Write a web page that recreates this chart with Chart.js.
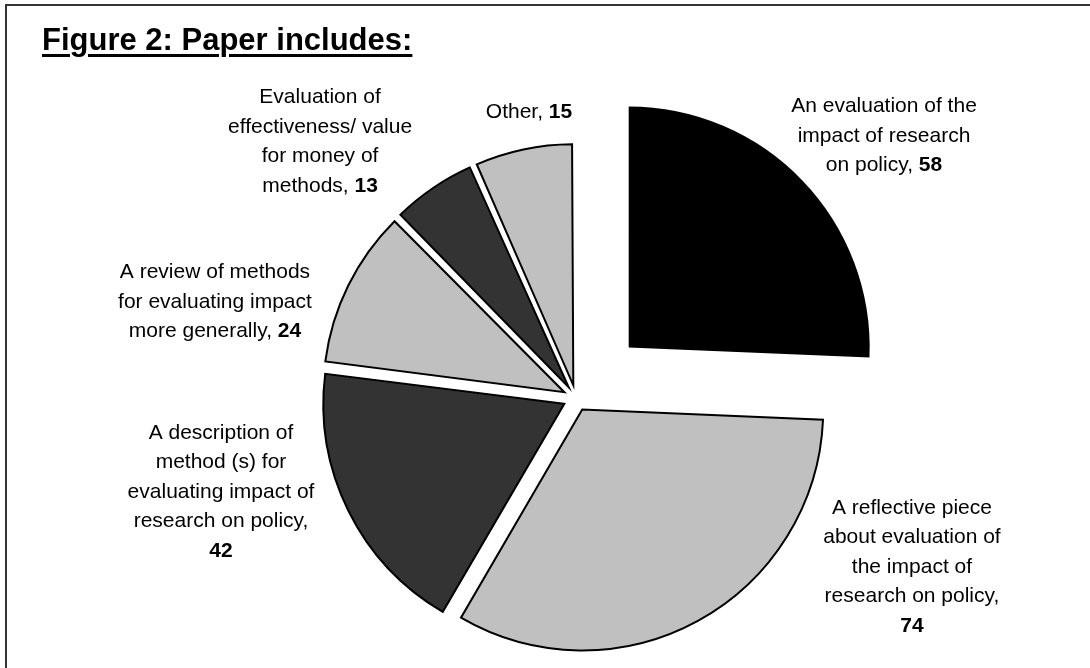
<!DOCTYPE html>
<html>
<head>
<meta charset="utf-8">
<script src="https://cdn.jsdelivr.net/npm/chart.js@4.4.1/dist/chart.umd.min.js"></script>
<style>
  html, body { margin: 0; padding: 0; background: #fff; overflow: hidden; }
  #wrap { position: relative; width: 1090px; height: 668px; }
  #frame { position: absolute; left: 5px; top: 4px; width: 1200px; height: 800px; border: 2px solid #333; }
  #titulo {
    position: absolute; left: 42px; top: 22px; color: #000;
    font: bold 31px "Liberation Sans", Arial, sans-serif; line-height: 36px;
    text-decoration: underline; text-decoration-thickness: 3px; text-underline-offset: 4px;
  }
  canvas { position: absolute; left: 0; top: 0; }
</style>
</head>
<body>
<div id="wrap">
  <div id="frame"></div>
  <canvas id="grafico1" width="1090" height="668"></canvas>
  <div id="titulo">Figure 2: Paper includes:</div>
</div>
<script>
const ctx = document.getElementById('grafico1')

// each category split in lines, the value goes bold after the last line
const categorias = [
    ['An evaluation of the', 'impact of research', 'on policy,'],
    ['A reflective piece', 'about evaluation of', 'the impact of', 'research on policy,', ''],
    ['A description of', 'method (s) for', 'evaluating impact of', 'research on policy,', ''],
    ['A review of methods', 'for evaluating impact', 'more generally,'],
    ['Evaluation of', 'effectiveness/ value', 'for money of', 'methods,'],
    ['Other,']
]
const valores = [58, 74, 42, 24, 13, 15]

const cores = ['#000000', '#c0c0c0', '#333333', '#c0c0c0', '#333333', '#c0c0c0']
const bordas = [0, 2, 2, 2, 2, 2]
const afastamento = [292, 52, 52, 52, 52, 52]
const raio = 241

// label centres relative to the pie centre, in radius units
const posRotulos = [[1.278, -1.087], [1.394, 0.701], [-1.473, 0.390], [-1.498, -0.398], [-1.062, -1.064], [-0.195, -1.187]]

const fonteNormal = '21px "Liberation Sans", Arial, sans-serif'
const fonteNegrito = 'bold 21px "Liberation Sans", Arial, sans-serif'
const alturaLinha = 29.5

// chart.js grows the radius of offset slices a bit, undo it
const ajusteRaio = {
    id: 'ajusteRaio',
    beforeDatasetsDraw(chart) {
        chart.getDatasetMeta(0).data.forEach((arc, i) => {
            const circ = arc.endAngle - arc.startAngle
            const fix = 1 - Math.sin(Math.min(Math.PI, circ))
            arc.outerRadius = raio - (afastamento[i] / 4) * fix
        })
    }
}

const rotulos = {
    id: 'rotulos',
    afterDraw(chart) {
        const c = chart.ctx
        const arcs = chart.getDatasetMeta(0).data
        const cx = arcs[0].x
        const cy = arcs[0].y
        c.save()
        c.fillStyle = '#000'
        c.textBaseline = 'middle'
        c.textAlign = 'left'
        categorias.forEach((linhas, i) => {
            const px = cx + posRotulos[i][0] * raio
            const py = cy + posRotulos[i][1] * raio
            const topo = py - (linhas.length - 1) * alturaLinha / 2
            linhas.forEach((txt, j) => {
                const ultima = j === linhas.length - 1
                const normal = ultima && txt !== '' ? txt + ' ' : txt
                const negrito = ultima ? String(valores[i]) : ''
                c.font = fonteNormal
                const w1 = c.measureText(normal).width
                c.font = fonteNegrito
                const w2 = c.measureText(negrito).width
                let x = px - (w1 + w2) / 2
                const y = topo + j * alturaLinha
                c.font = fonteNormal
                c.fillText(normal, x, y)
                c.font = fonteNegrito
                c.fillText(negrito, x + w1, y)
            })
        })
        c.restore()
    }
}

let grafico1 = new Chart(ctx, {
    type: 'pie',
    data: {
        labels: categorias.map(l => l.join(' ')),
        datasets: [{
            data: valores,
            backgroundColor: cores,
            borderColor: '#000000',
            borderWidth: bordas,
            borderJoinStyle: 'miter',
            offset: afastamento,
            clip: false
        }]
    },
    options: {
        responsive: false,
        animation: false,
        events: [],
        radius: raio,
        layout: { padding: { left: 62, right: 0, top: 128, bottom: 0 } },
        plugins: {
            legend: { display: false },
            tooltip: { enabled: false }
        }
    },
    plugins: [ajusteRaio, rotulos]
})
</script>
</body>
</html>
